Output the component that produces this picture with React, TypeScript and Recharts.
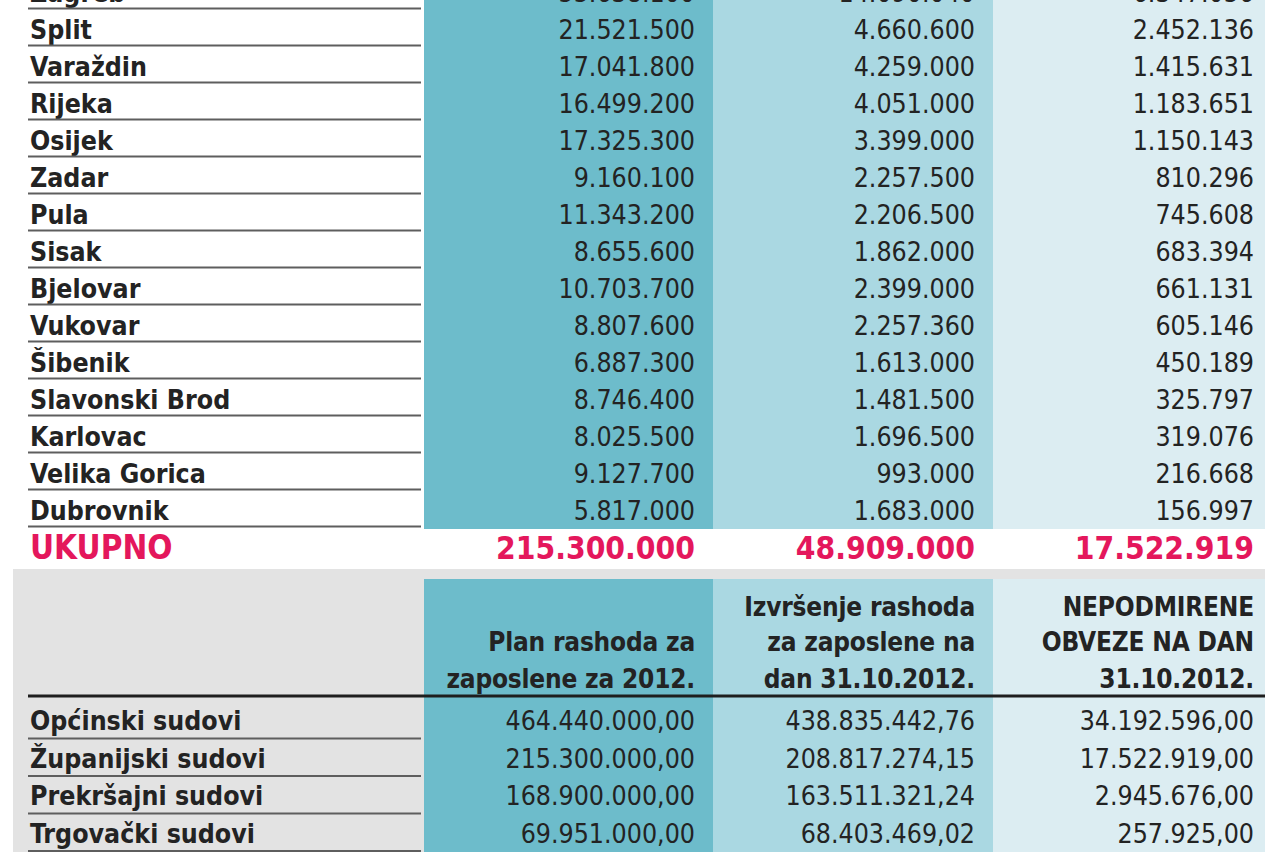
import React from 'react';
import { ComposedChart, Bar, XAxis, YAxis, LabelList, Cell } from 'recharts';

// ---------- DATA ----------
const CITIES = ['Zagreb', 'Split', 'Varaždin', 'Rijeka', 'Osijek', 'Zadar', 'Pula', 'Sisak', 'Bjelovar', 'Vukovar', 'Šibenik', 'Slavonski Brod', 'Karlovac', 'Velika Gorica', 'Dubrovnik'];
const PLAN = [55638100, 21521500, 17041800, 16499200, 17325300, 9160100, 11343200, 8655600, 10703700, 8807600, 6887300, 8746400, 8025500, 9127700, 5817000];
const IZVRSENJE = [14090040, 4660600, 4259000, 4051000, 3399000, 2257500, 2206500, 1862000, 2399000, 2257360, 1613000, 1481500, 1696500, 993000, 1683000];
const OBVEZE = [6347056, 2452136, 1415631, 1183651, 1150143, 810296, 745608, 683394, 661131, 605146, 450189, 325797, 319076, 216668, 156997];
const TOTAL_LABEL = 'UKUPNO';
const TOTALS = [215300000, 48909000, 17522919];

const HEADER_PLAN = ['', 'Plan rashoda za', 'zaposlene za 2012.'];
const HEADER_IZVRSENJE = ['Izvršenje rashoda', 'za zaposlene na', 'dan 31.10.2012.'];
const HEADER_OBVEZE = ['NEPODMIRENE', 'OBVEZE NA DAN', '31.10.2012.'];

const COURTS = ['Općinski sudovi', 'Županijski sudovi', 'Prekršajni sudovi', 'Trgovački sudovi'];
const COURT_PLAN = [464440000.0, 215300000.0, 168900000.0, 69951000.0];
const COURT_IZVRSENJE = [438835442.76, 208817274.15, 163511321.24, 68403469.02];
const COURT_OBVEZE = [34192596.0, 17522919.0, 2945676.0, 257925.0];

// ---------- STYLE ----------
const FONT = '"DejaVu Sans Condensed", "DejaVu Sans", sans-serif';
const INK = '#232323';
const PINK = '#e4175c';
const RULE = '#5e5e5e';
const FILLS = ['#6dbccb', '#aad8e2', '#dcedf2'];
const GREY = '#e3e3e3';
const NAME_COL = 424;
const RIGHT_PAD = 15;
const COL_WIDTHS = [289, 280, 272];
const TABLE_W = COL_WIDTHS.reduce((a, b) => a + b, 0);
const WIDTH_KEYS = COL_WIDTHS.map((w) => () => w);
const TEXT_INSETS = [18, 18, 11];
const NAME_X = 30;
const TOP_ROW_H = 37;
const BOTTOM_ROW_H = 39;
const KEYS = ['c0', 'c1', 'c2'];
// vertical text nudges per row (styling only)
const BOTTOM_HEADER_DY = [8, 4, 2];
const BOTTOM_ROW_DY = [5, 3.5, 2, 0.5];

const fmt = (n: number, dec = 0) => {
  const [i, d] = n.toFixed(dec).split('.');
  const int = i.replace(/\B(?=(\d{3})+(?!\d))/g, '.');
  return d ? `${int},${d}` : int;
};

type Row = { name: string; c0: any; c1: any; c2: any; kind: 'row' | 'total' | 'header' };

const topRows: Row[] = [
  ...CITIES.map((name, i) => ({ name, c0: PLAN[i], c1: IZVRSENJE[i], c2: OBVEZE[i], kind: 'row' as const })),
  { name: TOTAL_LABEL, c0: TOTALS[0], c1: TOTALS[1], c2: TOTALS[2], kind: 'total' },
];

const bottomRows: Row[] = [
  ...[0, 1, 2].map((i) => ({ name: `__h${i}`, c0: HEADER_PLAN[i], c1: HEADER_IZVRSENJE[i], c2: HEADER_OBVEZE[i], kind: 'header' as const })),
  ...COURTS.map((name, i) => ({ name, c0: COURT_PLAN[i], c1: COURT_IZVRSENJE[i], c2: COURT_OBVEZE[i], kind: 'row' as const })),
];

const rowNudge = (rows: Row[], idx: number, dys: number[] | null) => {
  if (!dys) return 0;
  const nHeader = rows.filter((r) => r.kind === 'header').length;
  return dys[idx - nHeader] ?? 0;
};

const makeNameTick = (rows: Row[], rowH: number, ruleOffset: number, dys: number[] | null) => (props: any) => {
  const { y, payload } = props;
  const idx = payload?.index ?? rows.findIndex((r) => r.name === payload?.value);
  const row = rows[idx];
  if (!row || row.kind === 'header') return <g />;
  const total = row.kind === 'total';
  const firstData = idx > 0 && rows[idx - 1].kind === 'header';
  const ty = y + rowNudge(rows, idx, dys);
  return (
    <g>
      <text
        x={NAME_X}
        y={ty}
        textAnchor="start"
        dominantBaseline="central"
        style={{ fontFamily: FONT, fontWeight: 700, fontSize: total ? 33 : 26.5, fill: total ? PINK : INK }}
      >
        {row.name}
      </text>
      {!total && <line x1={28} x2={421} y1={ty + ruleOffset} y2={ty + ruleOffset} stroke={RULE} strokeWidth={2} />}
      {firstData && <line x1={28} x2={NAME_COL} y1={y - rowH / 2} y2={y - rowH / 2} stroke="#1e1e1e" strokeWidth={3} />}
    </g>
  );
};

const makeValueLabel = (rows: Row[], ci: number, decimals: number, dys: number[] | null) => (props: any) => {
  const x = Number(props.x);
  const y = Number(props.y);
  const width = Number(props.width);
  const height = Number(props.height);
  const idx = props.index;
  const row = rows[idx];
  if (!row) return null;
  const v = row[KEYS[ci] as 'c0'];
  const tx = x + width - TEXT_INSETS[ci];
  const cy = y + height / 2;
  const firstData = idx > 0 && rows[idx - 1].kind === 'header';
  if (row.kind === 'header') {
    const hdy = BOTTOM_HEADER_DY[idx] ?? 0;
    return (
      <text x={tx} y={cy + hdy} textAnchor="end" dominantBaseline="central"
        style={{ fontFamily: FONT, fontWeight: 700, fontSize: 26, fill: INK, letterSpacing: -0.2 }}>
        {v}
      </text>
    );
  }
  const total = row.kind === 'total';
  return (
    <g>
      {firstData && <line x1={x} x2={x + width} y1={y} y2={y} stroke="#1e1e1e" strokeWidth={3} />}
      <text x={tx} y={cy + rowNudge(rows, idx, dys)} textAnchor="end" dominantBaseline="central"
        style={{ fontFamily: FONT, fontWeight: total ? 700 : 400, fontSize: total ? 31.5 : 26.5, fill: total ? PINK : INK }}>
        {fmt(v, decimals)}
      </text>
    </g>
  );
};

function Table({ rows, rowH, decimals, ruleOffset, dys }: { rows: Row[]; rowH: number; decimals: number; ruleOffset: number; dys: number[] | null }) {
  return (
    <ComposedChart
      layout="vertical"
      width={1280}
      height={rows.length * rowH}
      data={rows}
      margin={{ top: 0, right: RIGHT_PAD, bottom: 0, left: 0 }}
      barCategoryGap={0}
      barGap={0}
    >
      <XAxis type="number" hide domain={[0, TABLE_W]} />
      <YAxis
        type="category"
        dataKey="name"
        width={NAME_COL}
        axisLine={false}
        tickLine={false}
        interval={0}
        tick={makeNameTick(rows, rowH, ruleOffset, dys)}
      />
      {KEYS.map((k, ci) => (
        <Bar key={k} dataKey={WIDTH_KEYS[ci]} stackId="cols" isAnimationActive={false}>
          {rows.map((r, i) => (
            <Cell key={i} fill={r.kind === 'total' ? '#ffffff' : FILLS[ci]} />
          ))}
          <LabelList dataKey={k} content={makeValueLabel(rows, ci, decimals, dys)} />
        </Bar>
      ))}
    </ComposedChart>
  );
}

export default function App() {
  return (
    <div style={{ position: 'fixed', left: 0, top: 0, width: 1280, height: 852, overflow: 'hidden', background: '#ffffff' }}>
      <div style={{ position: 'absolute', left: 0, top: -26 }}>
        <Table rows={topRows} rowH={TOP_ROW_H} decimals={0} ruleOffset={16} dys={null} />
      </div>
      <div style={{ position: 'absolute', left: 13, top: 569, width: 1280 - RIGHT_PAD - 13, height: 283, background: GREY }} />
      <div style={{ position: 'absolute', left: 0, top: 579 }}>
        <Table rows={bottomRows} rowH={BOTTOM_ROW_H} decimals={2} ruleOffset={18} dys={BOTTOM_ROW_DY} />
      </div>
    </div>
  );
}
